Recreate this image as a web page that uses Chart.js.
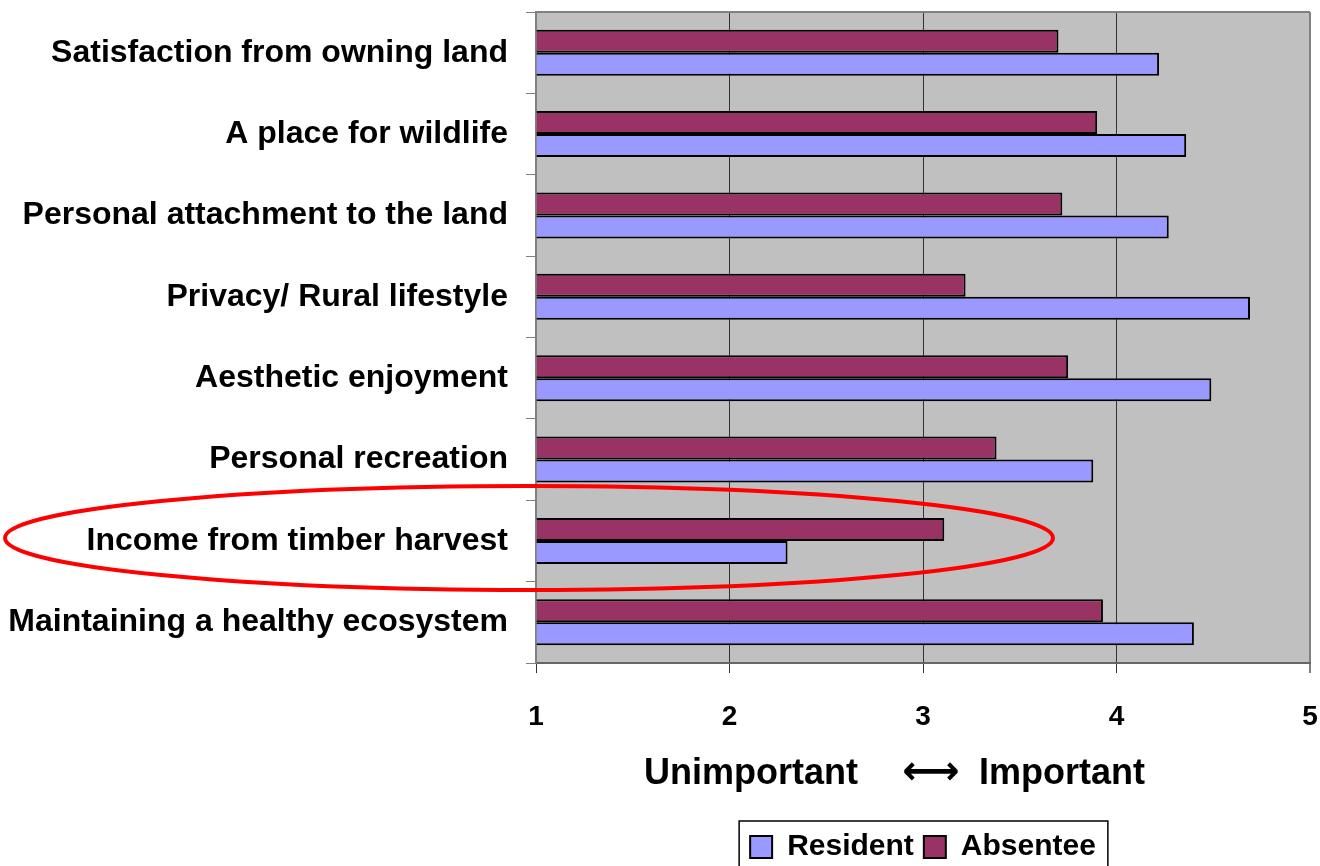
<!DOCTYPE html>
<html>
<head>
<meta charset="utf-8">
<script src="https://cdn.jsdelivr.net/npm/chart.js@4.4.1/dist/chart.umd.min.js"></script>
<style>
  html, body { margin: 0; padding: 0; background: #ffffff; overflow: hidden; }
  #wrap { width: 1320px; height: 872px; }
</style>
</head>
<body>
<div id="wrap"><canvas id="c" width="1320" height="872"></canvas></div>
<script>
const categories = [
  "Satisfaction from owning land",
  "A place for wildlife",
  "Personal attachment to the land",
  "Privacy/ Rural lifestyle",
  "Aesthetic enjoyment",
  "Personal recreation",
  "Income from timber harvest",
  "Maintaining a healthy ecosystem"
];
const residentValues = [4.22, 4.36, 4.27, 4.69, 4.49, 3.88, 2.30, 4.40];
const absenteeValues = [3.70, 3.90, 3.72, 3.22, 3.75, 3.38, 3.11, 3.93];
const seriesNames = ["Resident", "Absentee"];
const xTickValues = [1, 2, 3, 4, 5];
const axisTitleLeft = "Unimportant";
const axisTitleArrow = "\u27F7";
const axisTitleRight = "Important";

const FONT = "'Liberation Sans', Arial, Helvetica, sans-serif";

const plotBackground = {
  id: 'plotBackground',
  beforeDraw(chart) {
    const {ctx, chartArea: a} = chart;
    ctx.save();
    ctx.fillStyle = '#C0C0C0';
    ctx.fillRect(a.left, a.top, a.right - a.left, a.bottom - a.top);
    ctx.restore();
  },
  afterDatasetsDraw(chart) {
    const {ctx, chartArea: a} = chart;
    ctx.save();
    ctx.strokeStyle = '#808080';
    ctx.lineWidth = 2;
    ctx.beginPath();
    ctx.moveTo(a.left, a.top);
    ctx.lineTo(a.right, a.top);
    ctx.stroke();
    ctx.restore();
  }
};

const extras = {
  id: 'extras',
  afterDraw(chart) {
    const {ctx, chartArea: a} = chart;
    ctx.save();
    // axis title
    ctx.fillStyle = '#000';
    ctx.textBaseline = 'alphabetic';
    ctx.font = "bold 36px " + FONT;
    ctx.textAlign = 'right';
    ctx.fillText(axisTitleLeft, 858, 784);
    ctx.textAlign = 'left';
    ctx.fillText(axisTitleRight, 979, 784);
    ctx.font = "bold 40px 'DejaVu Sans', sans-serif";
    ctx.textAlign = 'center';
    ctx.textBaseline = 'middle';
    ctx.fillText(axisTitleArrow, 931, 774);

    // legend frame
    const lg = chart.legend;
    if (lg && lg.legendHitBoxes && lg.legendHitBoxes.length) {
      let l = Infinity, r = -Infinity;
      lg.legendHitBoxes.forEach(h => { l = Math.min(l, h.left); r = Math.max(r, h.left + h.width); });
      ctx.strokeStyle = '#000';
      ctx.lineWidth = 1.5;
      ctx.strokeRect(l - 11, 821, (r + 12) - (l - 11), 80);
    }

    // red ellipse annotation
    ctx.strokeStyle = '#FF0000';
    ctx.lineWidth = 4;
    ctx.beginPath();
    ctx.ellipse(529, 538, 524, 52, 0, 0, Math.PI * 2);
    ctx.stroke();
    ctx.restore();
  }
};

new Chart(document.getElementById('c'), {
  type: 'bar',
  data: {
    labels: categories,
    datasets: [
      {
        label: seriesNames[1],
        data: absenteeValues,
        backgroundColor: '#993366',
        borderColor: '#000000',
        borderWidth: 2,
        base: 1,
        categoryPercentage: 0.565,
        barPercentage: 1.0
      },
      {
        label: seriesNames[0],
        data: residentValues,
        backgroundColor: '#9999FF',
        borderColor: '#000000',
        borderWidth: 2,
        base: 1,
        categoryPercentage: 0.565,
        barPercentage: 1.0
      }
    ]
  },
  options: {
    indexAxis: 'y',
    responsive: false,
    animation: false,
    devicePixelRatio: 1,
    layout: { padding: { top: 12, right: 10, bottom: 0, left: 0 } },
    plugins: {
      tooltip: { enabled: false },
      title: { display: false },
      legend: {
        display: true,
        position: 'bottom',
        fullSize: false,
        reverse: true,
        labels: {
          color: '#000',
          font: { family: FONT, size: 30, weight: 'bold' },
          boxWidth: 22,
          boxHeight: 22,
          padding: 10
        }
      }
    },
    scales: {
      x: {
        type: 'linear',
        min: 1,
        max: 5,
        afterBuildTicks(scale) { scale.ticks = xTickValues.map(v => ({ value: v })); },
        afterFit(scale) {
          scale.height = 159;
          scale.paddingLeft = 0;
          scale.paddingRight = 0;
        },
        ticks: {
          stepSize: 1,
          color: '#000',
          padding: 27,
          font: { family: FONT, size: 28, weight: 'bold' }
        },
        grid: {
          drawOnChartArea: true,
          drawTicks: true,
          tickLength: 10,
          color: (c) => (c.tick && c.tick.value === 5) ? '#808080' : '#333333',
          lineWidth: (c) => (c.tick && c.tick.value === 5) ? 2 : 1
        },
        border: { display: true, color: '#666666', width: 2 }
      },
      y: {
        type: 'category',
        afterFit(scale) {
          scale.width = 536;
          scale.paddingTop = 0;
          scale.paddingBottom = 0;
        },
        ticks: {
          color: '#000',
          padding: 18,
          autoSkip: false,
          font: { family: FONT, size: 32, weight: 'bold' }
        },
        grid: {
          offset: true,
          drawOnChartArea: false,
          drawTicks: true,
          tickLength: 10,
          color: '#808080',
          lineWidth: 1
        },
        border: { display: true, color: '#808080', width: 2 }
      }
    }
  },
  plugins: [plotBackground, extras]
});
</script>
</body>
</html>
